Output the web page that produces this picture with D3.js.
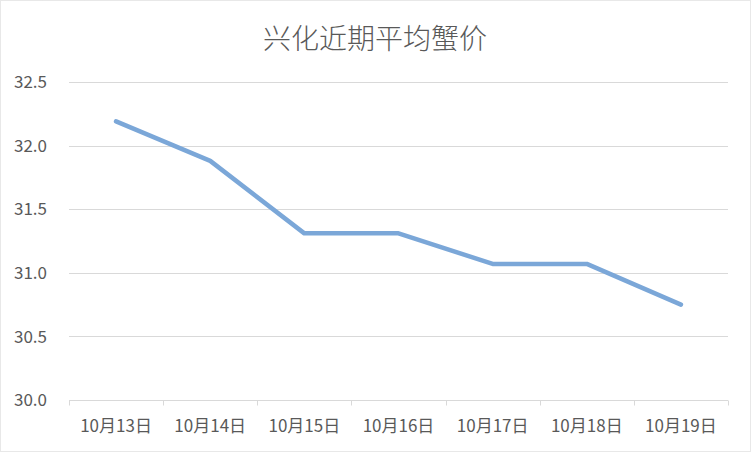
<!DOCTYPE html>
<html><head><meta charset="utf-8">
<script src="https://cdn.jsdelivr.net/npm/d3@7"></script>
<style>
html,body{margin:0;padding:0;background:#fff;}
svg{display:block;}
text{font-family:"Noto Sans CJK SC","Noto Sans",sans-serif;fill:#595959;}
</style></head>
<body>
<script>
const title = "兴化近期平均蟹价";
const categories = ["10月13日","10月14日","10月15日","10月16日","10月17日","10月18日","10月19日"];
const values = [32.19, 31.88, 31.31, 31.31, 31.07, 31.07, 30.75];
const yTicks = [30.0, 30.5, 31.0, 31.5, 32.0, 32.5];

const W = 751, H = 452;
const svg = d3.select("body").append("svg").attr("width", W).attr("height", H);

svg.append("rect").attr("x",0.5).attr("y",0.5).attr("width",W-1).attr("height",H-1)
  .attr("fill","#fff").attr("stroke","#d0d0d0").attr("stroke-dasharray","1,1");

const x = d3.scaleBand().domain(categories).range([69, 728]);
const y = d3.scaleLinear().domain([30, 32.5]).range([400, 82]);

// gridlines
svg.append("g").selectAll("line").data(yTicks.slice(1)).join("line")
  .attr("x1", 69).attr("x2", 728)
  .attr("y1", d => Math.round(y(d)) + 0.5).attr("y2", d => Math.round(y(d)) + 0.5)
  .attr("stroke", "#d9d9d9").attr("stroke-width", 1);

// y labels
svg.append("g").selectAll("text").data(yTicks).join("text")
  .attr("x", 47).attr("y", d => y(d)).attr("dy", "0.36em")
  .attr("text-anchor", "end").attr("font-size", 17)
  .text(d => d.toFixed(1));

// x axis
const xAxis = svg.append("g").attr("transform", "translate(0," + (Math.round(y(30)) + 0.5) + ")");
xAxis.append("line").attr("x1", 69).attr("x2", 728).attr("stroke", "#d9d9d9");
const tickPos = categories.map(c => x(c)).concat([x.range()[1]]);
xAxis.selectAll("line.tk").data(tickPos).join("line").attr("class","tk")
  .attr("x1", d => Math.round(d) + 0.5).attr("x2", d => Math.round(d) + 0.5)
  .attr("y1", 0).attr("y2", 5).attr("stroke", "#d9d9d9");
xAxis.selectAll("text").data(categories).join("text")
  .attr("x", d => x(d) + x.bandwidth() / 2).attr("y", 31)
  .attr("text-anchor", "middle").attr("font-size", 17)
  .text(d => d);

// line
const line = d3.line().x((d, i) => x(categories[i]) + x.bandwidth() / 2).y(d => y(d));
svg.append("path").datum(values).attr("d", line)
  .attr("fill", "none").attr("stroke", "#7ba7d8").attr("stroke-width", 4.5)
  .attr("stroke-linecap", "round").attr("stroke-linejoin", "round");

// title
svg.append("text").attr("x", 375).attr("y", 49).attr("text-anchor", "middle")
  .attr("font-size", 28).attr("font-weight", 300).text(title);
</script>
</body></html>
